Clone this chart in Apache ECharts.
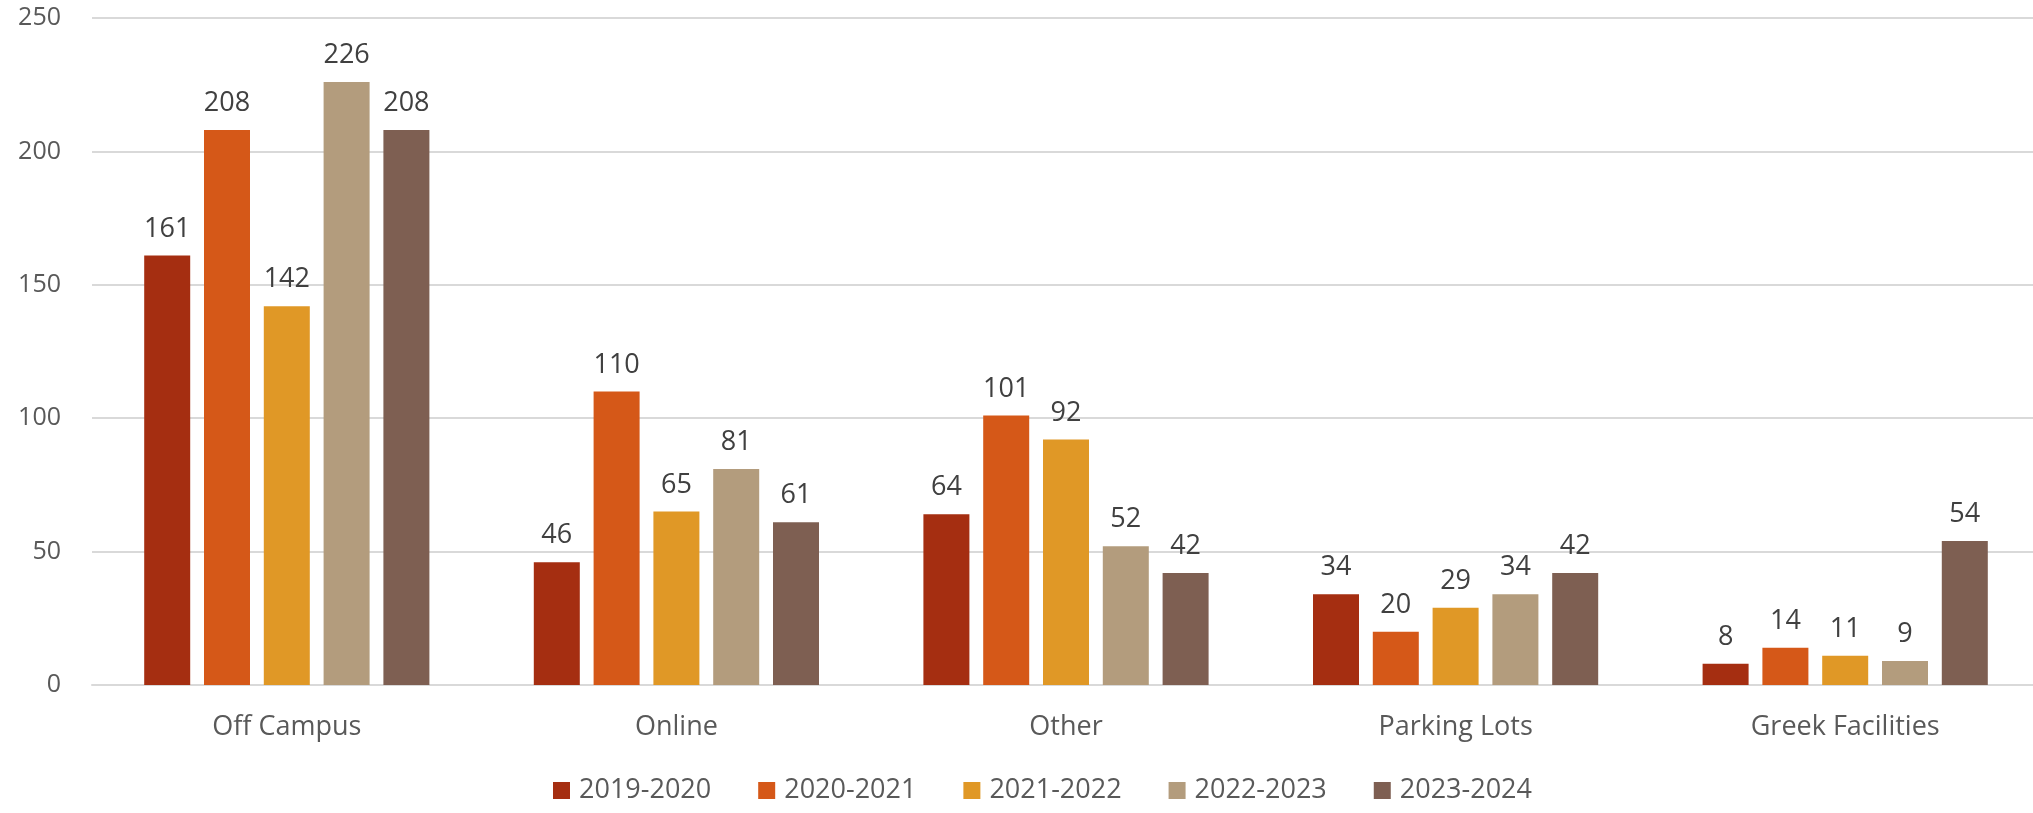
<!DOCTYPE html>
<html><head><meta charset="utf-8">
<script src="https://cdn.jsdelivr.net/npm/echarts@6/dist/echarts.min.js"></script>
<style>html,body{margin:0;padding:0;background:#fff;overflow:hidden}#c{width:2040px;height:813px}</style>
</head><body><div id="c"></div>
<script>
var categories = ['Off Campus', 'Online', 'Other', 'Parking Lots', 'Greek Facilities'];
var seriesNames = ['2019-2020', '2020-2021', '2021-2022', '2022-2023', '2023-2024'];
var s2019 = [161, 46, 64, 34, 8];
var s2020 = [208, 110, 101, 20, 14];
var s2021 = [142, 65, 92, 29, 11];
var s2022 = [226, 81, 52, 34, 9];
var s2023 = [208, 61, 42, 42, 54];
var colors = ['#A52E11', '#D55818', '#E09826', '#B39C7D', '#7E5F52'];
var allData = [s2019, s2020, s2021, s2022, s2023];
var font = 'Open Sans';
var chart = echarts.init(document.getElementById('c'));
chart.setOption({
  animation: false,
  color: colors,
  textStyle: {fontFamily: font},
  grid: {left: 92, right: 0, top: 18, bottom: 128, containLabel: false},
  legend: {
    bottom: 4, left: 548, itemWidth: 17, itemHeight: 17, itemGap: 47,
    icon: 'rect',
    textStyle: {fontFamily: font, fontSize: 27, color: '#595959', padding: [0, 0, 0, 4]},
    data: seriesNames
  },
  xAxis: {
    type: 'category', data: categories,
    axisLine: {show: true, lineStyle: {color: '#D9D9D9', width: 2}},
    axisTick: {show: false},
    axisLabel: {fontFamily: font, fontSize: 27, color: '#595959', margin: 29}
  },
  yAxis: {
    type: 'value', min: 0, max: 250, interval: 50,
    axisLine: {show: false}, axisTick: {show: false},
    splitLine: {lineStyle: {color: '#D9D9D9', width: 2}},
    axisLabel: {fontFamily: font, fontSize: 25, color: '#595959', margin: 31}
  },
  series: seriesNames.map(function (n, i) {
    return {
      name: n, type: 'bar', data: allData[i], barWidth: 46, barGap: '30%',
      label: {show: true, position: 'top', distance: 13, fontFamily: font, fontSize: 27, color: '#404040'}
    };
  })
});
</script></body></html>
